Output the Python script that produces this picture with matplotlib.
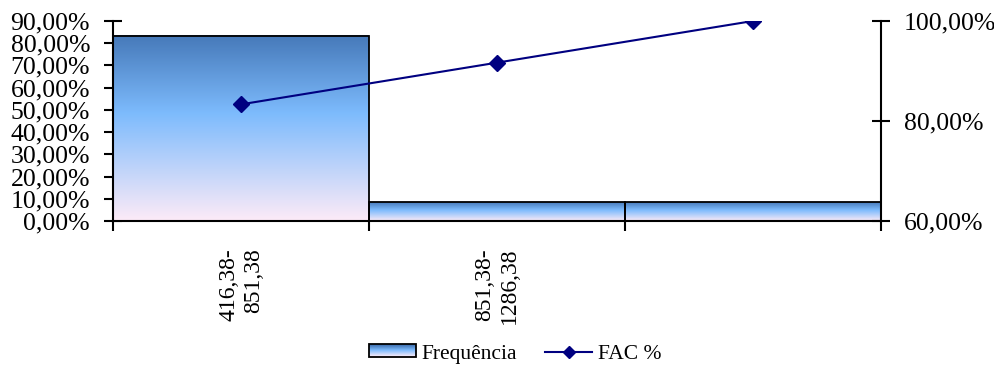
import matplotlib
matplotlib.use("Agg")
import matplotlib.pyplot as plt
import numpy as np
from matplotlib.colors import LinearSegmentedColormap
from matplotlib.lines import Line2D
from matplotlib.patches import Rectangle
from matplotlib.legend_handler import HandlerBase

# ---- data ----
categories = ["416,38-\n851,38", "851,38-\n1286,38", ""]
frequencia = [83.33, 8.33, 8.33]      # left axis, %
fac = [83.33, 91.67, 100.00]          # right axis, %
left_ticks = [0, 10, 20, 30, 40, 50, 60, 70, 80, 90]
right_ticks = [60, 80, 100]

plt.rcParams['font.family'] = ['Liberation Serif', 'DejaVu Serif']

cmap = LinearSegmentedColormap.from_list(
    "grad", [(0.0, "#fdebf7"), (0.58, "#7dbbfd"), (1.0, "#4679b9")])

fig = plt.figure(figsize=(9.95, 3.66), dpi=100)
W, H = 995, 366
ax = fig.add_axes([113 / W, 1 - 221 / H, (881 - 113) / W, 200 / H])
x = np.arange(len(categories))
bars = ax.bar(x, frequencia, width=1.0, color='none', edgecolor='black',
              linewidth=1.3, zorder=3)
grad = np.linspace(0, 1, 256).reshape(-1, 1)
for b in bars:
    x0, y0 = b.get_x(), b.get_y()
    w, h = b.get_width(), b.get_height()
    ax.imshow(grad, cmap=cmap, origin='lower', aspect='auto',
              extent=[x0, x0 + w, y0, y0 + h], zorder=2)
ax.set_aspect('auto')
ax.set_xlim(-0.5, len(categories) - 0.5)
ax.set_ylim(0, 90)

ax.set_yticks(left_ticks)
ax.set_yticklabels([f"{v:.2f}%".replace('.', ',') for v in left_ticks], fontsize=18.5)
ax.tick_params(axis='y', direction='inout', length=13, width=1.5, pad=10)
ax.set_xticks(np.arange(len(categories) + 1) - 0.5)
ax.set_xticklabels([])
ax.tick_params(axis='x', direction='out', length=7, width=1.5)
for s in ['top', 'right']:
    ax.spines[s].set_visible(False)
for s in ['left', 'bottom']:
    ax.spines[s].set_linewidth(1.5)

for xi, lab in zip(x, categories):
    if lab:
        ax.text(xi, -0.135, lab, rotation=90, ha='center', va='top',
                multialignment='right', fontsize=17, linespacing=1.22,
                transform=ax.get_xaxis_transform())

ax2 = ax.twinx()
ax2.plot(x, fac, color='#000080', marker='D', markersize=8.5, linewidth=1.5, zorder=5)
ax2.set_ylim(60, 100)
ax2.set_yticks(right_ticks)
ax2.set_yticklabels([f"{v:.2f}%".replace('.', ',') for v in right_ticks], fontsize=18.5)
ax2.tick_params(axis='y', direction='inout', length=13, width=1.5, pad=10)
for s in ['top', 'left', 'bottom']:
    ax2.spines[s].set_visible(False)
ax2.spines['right'].set_linewidth(1.5)


class GradHandler(HandlerBase):
    def create_artists(self, legend, orig_handle, xdescent, ydescent,
                       width, height, fontsize, trans):
        arts = []
        n = 12
        for i in range(n):
            r = Rectangle((-xdescent, -ydescent + height * i / n), width, height / n,
                          facecolor=cmap(i / (n - 1)), edgecolor='none', transform=trans)
            arts.append(r)
        arts.append(Rectangle((-xdescent, -ydescent), width, height, facecolor='none',
                              edgecolor='black', linewidth=1.3, transform=trans))
        return arts


bar_handle = Rectangle((0, 0), 1, 1)
line_handle = Line2D([], [], color='#000080', marker='D', markersize=6, linewidth=1.5)
fig.legend([bar_handle, line_handle], ['Frequência', 'FAC %'],
           handler_map={Rectangle: GradHandler()},
           loc='center', bbox_to_anchor=(515 / W, 1 - 354 / H), ncol=2,
           frameon=False, fontsize=15.5, handlelength=2.2, handleheight=0.55,
           handletextpad=0.25, columnspacing=1.3)

fig.savefig("out.png", dpi=100)
